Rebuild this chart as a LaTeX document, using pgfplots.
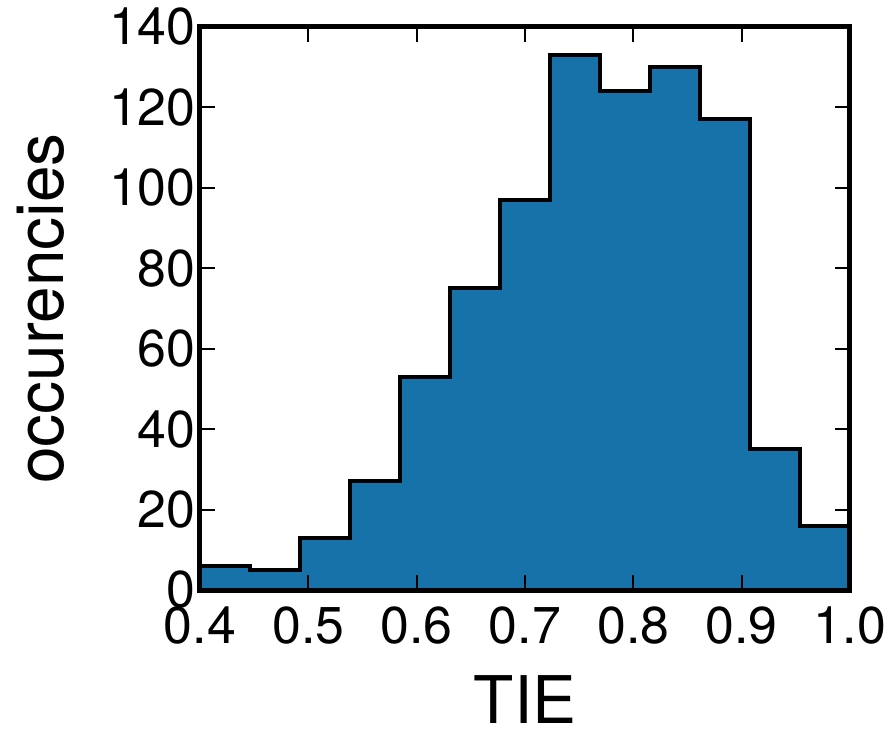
\documentclass[border=0pt]{standalone}
\usepackage{fontspec}
\setmainfont{TeX Gyre Heros}
\usepackage{pgfplots}
\pgfplotsset{compat=1.18}
\definecolor{histblue}{RGB}{22,114,169}
\begin{document}
\begin{tikzpicture}
\begin{axis}[
  at={(0,0)}, anchor=south west,
  scale only axis,
  width=325bp, height=281.5bp,
  xmin=0.4, xmax=1.0, ymin=0, ymax=140,
  xtick={0.4,0.5,0.6,0.7,0.8,0.9,1.0},
  ytick={0,20,40,60,80,100,120,140},
  axis on top,
  axis line style={line width=2.5bp},
  tick align=inside,
  major tick length=7.5bp,
  tick style={line width=1bp, black},
  /pgf/number format/assume math mode=true,
  xticklabel style={/pgf/number format/fixed, /pgf/number format/fixed zerofill, /pgf/number format/precision=1, font=\fontsize{26}{30}\selectfont, inner sep=1bp, yshift=-7bp},
  yticklabel style={font=\fontsize{26}{30}\selectfont, inner sep=2bp},
  xlabel={TIE},
  ylabel={occurencies},
  xlabel style={font=\fontsize{33}{38}\selectfont, inner sep=0pt, yshift=-14.5bp},
  ylabel style={font=\fontsize{33}{38}\selectfont, yshift=17bp},
]
\addplot[const plot, fill=histblue, draw=black, line width=2bp] coordinates {
(0.40000,6) (0.44615,5) (0.49231,13) (0.53846,27) (0.58462,53) (0.63077,75)
(0.67692,97) (0.72308,133) (0.76923,124) (0.81538,130) (0.86154,117)
(0.90769,35) (0.95385,16) (1.00000,16)
} \closedcycle;
\end{axis}
\pgfresetboundingbox
\path[use as bounding box] (-100bp,-69.5bp) rectangle (345bp,295bp);
\end{tikzpicture}
\end{document}
